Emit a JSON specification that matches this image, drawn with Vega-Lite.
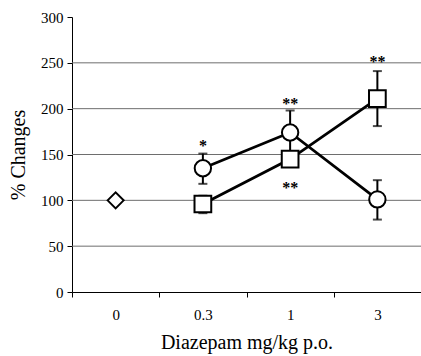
{
  "$schema": "https://vega.github.io/schema/vega-lite/v6.json",
  "width": 349,
  "height": 275,
  "autosize": {"type": "none"},
  "padding": {"left": 72, "top": 17, "right": 0, "bottom": 64},
  "background": "white",
  "config": {
    "view": {"stroke": null},
    "font": "Liberation Serif",
    "axis": {"labelFont": "Liberation Serif", "titleFont": "Liberation Serif", "labelColor": "black", "titleColor": "black", "titleFontWeight": "normal", "domainColor": "black", "tickColor": "black", "domainWidth": 1, "tickWidth": 1}
  },
  "datasets": {
    "pts": [
      {"dose": "0", "series": "control", "value": 100},
      {"dose": "0.3", "series": "circle", "value": 135, "lo": 118, "hi": 151},
      {"dose": "1", "series": "circle", "value": 174, "lo": 150, "hi": 198},
      {"dose": "3", "series": "circle", "value": 101, "lo": 79, "hi": 122},
      {"dose": "0.3", "series": "square", "value": 96, "lo": 86, "hi": 105},
      {"dose": "1", "series": "square", "value": 145, "lo": 138, "hi": 152},
      {"dose": "3", "series": "square", "value": 211, "lo": 181, "hi": 241}
    ],
    "grid": [{"g": 50}, {"g": 100}, {"g": 150}, {"g": 200}, {"g": 250}],
    "sig": [
      {"dose": "0.3", "pos": 164, "mark": "*"},
      {"dose": "1", "pos": 209, "mark": "**"},
      {"dose": "1", "pos": 118, "mark": "**"},
      {"dose": "3", "pos": 255, "mark": "**"}
    ]
  },
  "encoding": {
    "x": {
      "field": "dose", "type": "ordinal", "sort": ["0", "0.3", "1", "3"],
      "scale": {"type": "band", "domain": ["0", "0.3", "1", "3"], "paddingInner": 0, "paddingOuter": 0},
      "axis": {"title": "Diazepam mg/kg p.o.", "titleFontSize": 20, "labelFontSize": 15, "labelAngle": 0, "tickBand": "extent", "tickSize": 5, "labelPadding": 10, "titlePadding": 10, "grid": false}
    }
  },
  "layer": [
    {
      "data": {"name": "grid"},
      "mark": {"type": "rule", "color": "#6e6e6e", "strokeWidth": 1},
      "encoding": {
        "x": null,
        "y": {"field": "g", "type": "quantitative", "scale": {"domain": [0, 300]},
          "axis": {"title": "% Changes", "titleFontSize": 20, "labelFontSize": 15, "values": [0, 50, 100, 150, 200, 250, 300], "grid": false, "tickSize": 5, "labelPadding": 4, "titlePadding": 12}}
      }
    },
    {
      "data": {"name": "pts"},
      "transform": [{"filter": "datum.series !== 'control'"}],
      "mark": {"type": "rule", "color": "black", "strokeWidth": 2},
      "encoding": {
        "y": {"field": "lo", "type": "quantitative"},
        "y2": {"field": "hi"}
      }
    },
    {
      "data": {"name": "pts"},
      "transform": [{"filter": "datum.series !== 'control'"}, {"fold": ["lo", "hi"], "as": ["end", "endval"]}],
      "mark": {"type": "tick", "color": "black", "thickness": 2, "size": 9, "orient": "horizontal"},
      "encoding": {
        "y": {"field": "endval", "type": "quantitative"}
      }
    },
    {
      "data": {"name": "pts"},
      "transform": [{"filter": "datum.series !== 'control'"}],
      "mark": {"type": "line", "color": "black", "strokeWidth": 2.8},
      "encoding": {
        "y": {"field": "value", "type": "quantitative"},
        "detail": {"field": "series"}
      }
    },
    {
      "data": {"name": "pts"},
      "mark": {"type": "point", "filled": false, "fill": "white", "fillOpacity": 1, "stroke": "black", "strokeWidth": 2, "opacity": 1},
      "encoding": {
        "y": {"field": "value", "type": "quantitative"},
        "shape": {"field": "series", "type": "nominal", "scale": {"domain": ["control", "circle", "square"], "range": ["diamond", "circle", "square"]}, "legend": null},
        "size": {"field": "series", "type": "nominal", "scale": {"domain": ["control", "circle", "square"], "range": [256, 280, 280]}, "legend": null}
      }
    },
    {
      "data": {"name": "sig"},
      "mark": {"type": "text", "font": "Liberation Serif", "fontSize": 16, "fontWeight": "bold", "color": "black", "baseline": "middle", "dy": 4},
      "encoding": {
        "y": {"field": "pos", "type": "quantitative"},
        "text": {"field": "mark"}
      }
    }
  ]
}
